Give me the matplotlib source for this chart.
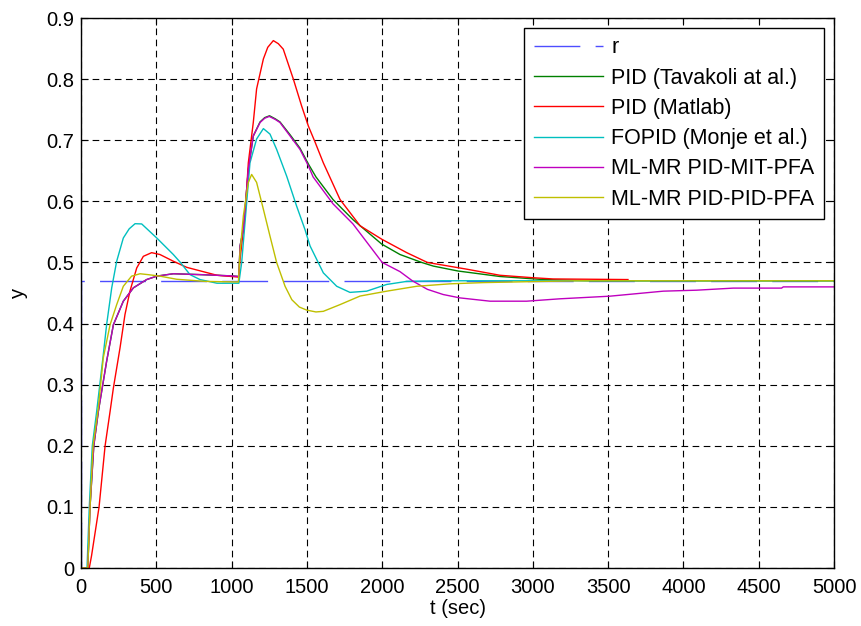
import matplotlib
matplotlib.use("Agg")
import matplotlib.pyplot as plt

plt.rcParams['font.family'] = ['Liberation Sans', 'DejaVu Sans']

# reference
t_r = [0, 0, 5000]
y_r = [0, 0.47, 0.47]

# PID (Tavakoli at al.)
t_g = [0, 45, 60, 85, 115, 170, 215, 281, 348, 436, 503, 613, 800, 1000, 1048, 1056, 1078, 1111, 1144,
       1189, 1220, 1252, 1290, 1321, 1388, 1454, 1510, 1560, 1673, 1806, 1997, 2118, 2262, 2340, 2503,
       2782, 3070, 3400, 5000]
y_g = [0, 0, 0.1, 0.2, 0.256, 0.338, 0.398, 0.4366, 0.4585, 0.472, 0.4776, 0.4815, 0.480, 0.478, 0.477,
       0.527, 0.554, 0.652, 0.707, 0.730, 0.737, 0.740, 0.735, 0.730, 0.709, 0.687, 0.661, 0.640, 0.603,
       0.570, 0.530, 0.513, 0.5, 0.494, 0.486, 0.477, 0.472, 0.470, 0.470]

# PID (Matlab)
t_red = [0, 55, 70, 120, 160, 193, 215, 259, 292, 325, 370, 414, 469, 524, 613, 702, 903, 1048, 1056,
         1089, 1111, 1144, 1166, 1211, 1240, 1277, 1310, 1343, 1410, 1465, 1510, 1554, 1609, 1720, 1853,
         1997, 2163, 2300, 2561, 2782, 3001, 3134, 3632]
y_red = [0, 0, 0.02, 0.1, 0.2, 0.256, 0.2945, 0.360, 0.4148, 0.453, 0.491, 0.510, 0.516, 0.513, 0.502,
         0.492, 0.479, 0.476, 0.505, 0.576, 0.663, 0.729, 0.784, 0.833, 0.852, 0.863, 0.858, 0.849, 0.8,
         0.756, 0.723, 0.697, 0.663, 0.603, 0.56, 0.538, 0.516, 0.5, 0.489, 0.479, 0.475, 0.473, 0.472]

# FOPID (Monje et al.)
t_c = [0, 40, 55, 75, 104, 148, 170, 204, 237, 281, 320, 359, 403, 503, 613, 660, 724, 790, 903, 1048,
       1067, 1122, 1166, 1211, 1255, 1299, 1366, 1432, 1487, 1521, 1609, 1698, 1786, 1897, 2030, 2163,
       2400, 5000]
y_c = [0, 0, 0.1, 0.2, 0.256, 0.349, 0.398, 0.4585, 0.502, 0.540, 0.555, 0.5634, 0.563, 0.540, 0.513,
       0.5, 0.480, 0.472, 0.466, 0.466, 0.5, 0.663, 0.702, 0.719, 0.71, 0.685, 0.641, 0.592, 0.554,
       0.527, 0.483, 0.461, 0.451, 0.453, 0.464, 0.469, 0.470, 0.470]

# ML-MR PID-MIT-PFA
t_m = [0, 45, 60, 85, 115, 170, 215, 281, 348, 436, 503, 613, 800, 1000, 1048, 1056, 1078, 1111, 1144,
       1189, 1220, 1250, 1290, 1321, 1388, 1454, 1510, 1541, 1673, 1806, 2000, 2118, 2200, 2300, 2405,
       2516, 2716, 2959, 3180, 3512, 3866, 4088, 4331, 4652, 4663, 5000]
y_m = [0, 0, 0.1, 0.2, 0.256, 0.338, 0.398, 0.4366, 0.4585, 0.472, 0.4776, 0.4815, 0.480, 0.478, 0.477,
       0.527, 0.554, 0.652, 0.707, 0.729, 0.736, 0.739, 0.734, 0.729, 0.707, 0.685, 0.658, 0.640, 0.596,
       0.563, 0.5, 0.485, 0.470, 0.456, 0.4475, 0.442, 0.4366, 0.4366, 0.4405, 0.4448, 0.453, 0.4546,
       0.458, 0.458, 0.460, 0.460]

# ML-MR PID-PID-PFA
t_y = [0, 45, 60, 80, 115, 148, 193, 237, 281, 336, 392, 447, 524, 635, 823, 1045, 1056, 1078, 1111,
       1133, 1166, 1211, 1255, 1299, 1355, 1400, 1450, 1499, 1560, 1609, 1720, 1853, 2030, 2229, 2450,
       2670, 3068, 3300, 5000]
y_y = [0, 0, 0.1, 0.2, 0.262, 0.344, 0.398, 0.431, 0.461, 0.4776, 0.4815, 0.480, 0.4776, 0.4725, 0.469,
       0.468, 0.516, 0.576, 0.631, 0.644, 0.631, 0.587, 0.543, 0.5, 0.461, 0.439, 0.427, 0.422, 0.419,
       0.420, 0.431, 0.445, 0.453, 0.461, 0.465, 0.467, 0.469, 0.470, 0.470]

labels = ['r', 'PID (Tavakoli at al.)', 'PID (Matlab)', 'FOPID (Monje et al.)',
          'ML-MR PID-MIT-PFA', 'ML-MR PID-PID-PFA']
xticks = [0, 500, 1000, 1500, 2000, 2500, 3000, 3500, 4000, 4500, 5000]
yticks = [0, 0.1, 0.2, 0.3, 0.4, 0.5, 0.6, 0.7, 0.8, 0.9]

FS = 14.5
LFS = 15.5
fig = plt.figure(figsize=(8.61, 6.26), dpi=100)
ax = fig.add_axes([81/861, 1-568/626, (834-81)/861, (568-18)/626])

lw = 1.0
ax.plot(t_r, y_r, color=(0.3, 0.3, 1), lw=lw, linestyle=(0, (33, 11)), label=labels[0])
ax.plot(t_g, y_g, color=(0, 0.5, 0), lw=lw, label=labels[1])
ax.plot(t_red, y_red, color=(1, 0, 0), lw=lw, label=labels[2])
ax.plot(t_c, y_c, color=(0, 0.75, 0.75), lw=lw, label=labels[3])
ax.plot(t_m, y_m, color=(0.75, 0, 0.75), lw=lw, label=labels[4])
ax.plot(t_y, y_y, color=(0.75, 0.75, 0), lw=lw, label=labels[5])

ax.set_xlim(0, 5000)
ax.set_ylim(0, 0.9)
ax.set_xticks(xticks)
ax.set_yticks(yticks)
ax.set_xticklabels([str(v) for v in xticks])
ax.set_yticklabels(['0'] + ['%.1f' % v for v in yticks[1:]])
ax.tick_params(direction='in', top=True, right=True, labelsize=FS, length=5, width=0.8)
ax.tick_params(axis='x', pad=7)
ax.tick_params(axis='y', pad=5)
ax.grid(True, color='black', linestyle=(0, (6, 4)), lw=0.8)
for s in ax.spines.values():
    s.set_linewidth(1.0)
    s.set_color('black')

ax.set_xlabel('t (sec)', fontsize=FS, labelpad=2)
ax.set_ylabel('y', fontsize=FS, labelpad=13)

leg = ax.legend(loc='upper right', fontsize=LFS, handlelength=3.2, handletextpad=0.4,
                labelspacing=0.43, borderpad=0.45, borderaxespad=0.45, fancybox=False,
                framealpha=1, edgecolor='black')
leg.get_frame().set_linewidth(1.0)

fig.savefig('out.png', dpi=100)
